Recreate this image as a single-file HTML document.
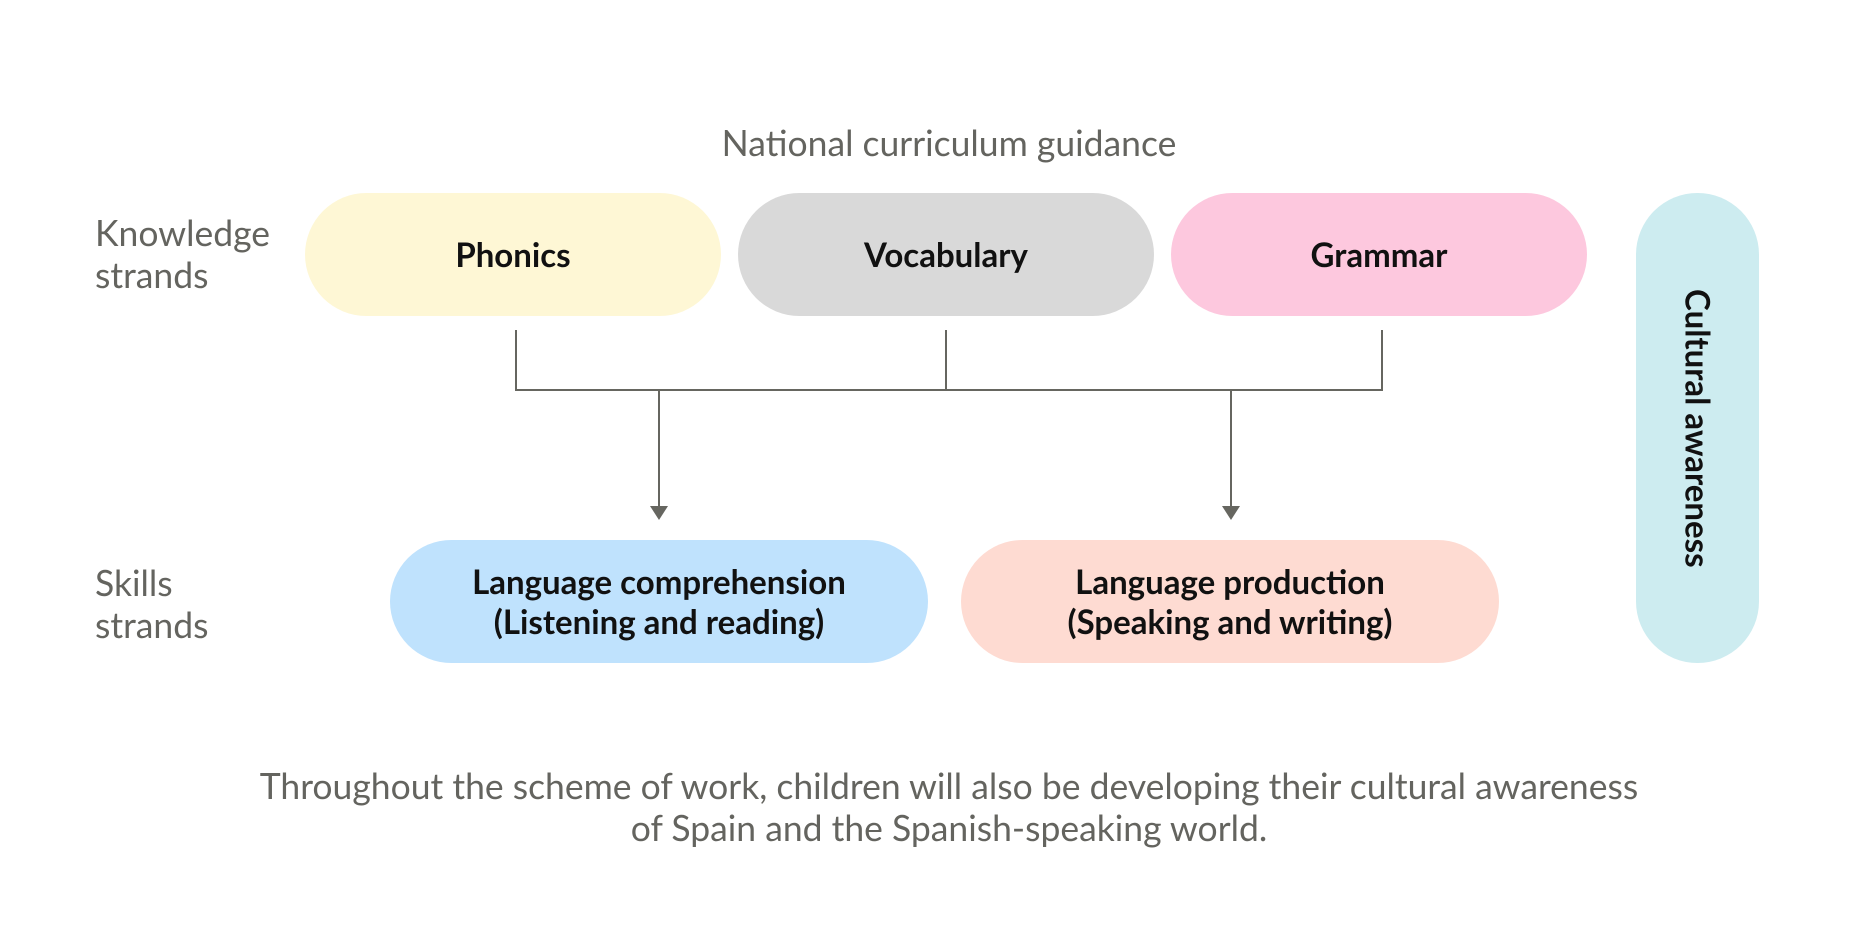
<!DOCTYPE html>
<html><head><meta charset="utf-8"><style>
html,body{margin:0;padding:0;background:#fff;}
body{width:1854px;height:950px;position:relative;overflow:hidden;font-family:"Lato","Liberation Sans",sans-serif;}
.t{position:absolute;color:#64645f;font-size:35.5px;line-height:42px;}
.pill{position:absolute;display:flex;align-items:center;justify-content:center;text-align:center;font-weight:bold;color:#111;font-size:33px;line-height:40px;}
</style></head><body>
<div class="t" style="left:0;width:1898px;top:122px;text-align:center;">National curriculum guidance</div>
<div class="t" style="left:95px;top:212px;">Knowledge<br>strands</div>
<div class="t" style="left:95px;top:562px;">Skills<br>strands</div>
<div class="pill" style="left:305px;top:193px;width:416px;height:123px;border-radius:62px;background:#fef7d5;">Phonics</div>
<div class="pill" style="left:738px;top:193px;width:416px;height:123px;border-radius:62px;background:#d9d9d9;">Vocabulary</div>
<div class="pill" style="left:1171px;top:193px;width:416px;height:123px;border-radius:62px;background:#fdc8de;">Grammar</div>
<div class="pill" style="left:1636px;top:193px;width:123px;height:470px;border-radius:62px;background:#cdecf0;"><span style="writing-mode:vertical-rl;">Cultural awareness</span></div>
<div class="pill" style="left:390px;top:540px;width:538px;height:123px;border-radius:62px;background:#bfe2fd;">Language comprehension<br>(Listening and reading)</div>
<div class="pill" style="left:961px;top:540px;width:538px;height:123px;border-radius:62px;background:#fedbd2;">Language production<br>(Speaking and writing)</div>
<svg style="position:absolute;left:0;top:0" width="1854" height="950">
<g stroke="#666660" stroke-width="2" fill="none">
<path d="M516 330V390H1382V330M946 330V390M659 390V508M1231 390V508"/>
</g>
<g fill="#666660"><path d="M650 506h18l-9 14z"/><path d="M1222 506h18l-9 14z"/></g>
</svg>
<div class="t" style="left:0;width:1898px;top:765px;text-align:center;line-height:42px;">Throughout the scheme of work, children will also be developing their cultural awareness<br>of Spain and the Spanish-speaking world.</div>
</body></html>
